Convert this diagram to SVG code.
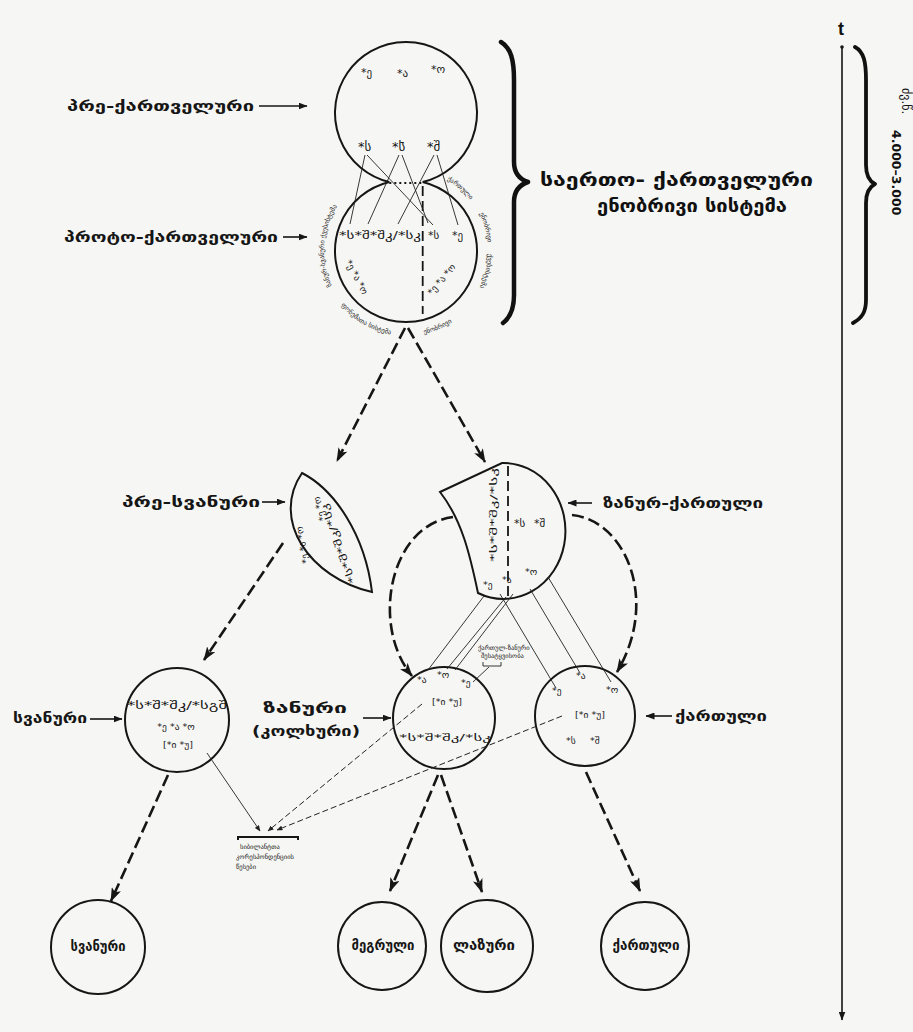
<svg xmlns="http://www.w3.org/2000/svg" width="913" height="1032" viewBox="0 0 913 1032">
  <style>
    .geo { font-family: "DejaVu Sans", sans-serif; fill: #161616; }
    .lab { font-family: "DejaVu Sans", sans-serif; font-weight: bold; font-size: 14px; fill: #161616; }
    .title { font-family: "DejaVu Sans", sans-serif; font-weight: bold; font-size: 18px; fill: #111; }
    .sm { font-size: 11px; }
    .xs { font-size: 9.5px; }
    .tiny { font-size: 6.5px; }
    .ring { font-family: "DejaVu Sans", sans-serif; font-size: 6.5px; fill: #222; }
    .node { fill: none; stroke: #161616; stroke-width: 2; }
    .thin { fill: none; stroke: #222; stroke-width: 0.9; }
    .thindash { fill: none; stroke: #222; stroke-width: 1; stroke-dasharray: 6 3; }
    .big { fill: none; stroke: #161616; stroke-width: 2.6; stroke-dasharray: 12 5; }
    .ptr { fill: none; stroke: #161616; stroke-width: 1.6; }
    .brace { fill: none; stroke: #111; stroke-width: 4.5; stroke-linecap: round; stroke-linejoin: round; }
  </style>
  <defs>
    <marker id="ah" viewBox="0 0 14 10" refX="13" refY="5" markerWidth="14" markerHeight="10" markerUnits="userSpaceOnUse" orient="auto">
      <path d="M0,0 L14,5 L0,10 L3.5,5 z" fill="#161616"/>
    </marker>
    <marker id="la" viewBox="0 0 9 7" refX="8.5" refY="3.5" markerWidth="9" markerHeight="7" markerUnits="userSpaceOnUse" orient="auto">
      <path d="M0,0 L9,3.5 L0,7 z" fill="#161616"/>
    </marker>
    <marker id="ta" viewBox="0 0 6 5" refX="5.5" refY="2.5" markerWidth="6" markerHeight="5" markerUnits="userSpaceOnUse" orient="auto">
      <path d="M0,0 L6,2.5 L0,5 z" fill="#222"/>
    </marker>
    <!-- arcs carrying the small captions round the proto-Kartvelian circle -->
    <path id="ringL" d="M331.7,285.7 A82,82 0 0,1 359,183.8"/>
    <path id="ringR1" d="M447,180 A82,82 0 0,1 477,210"/>
    <path id="ringR2" d="M479.5,213.5 A82,82 0 0,1 488,251"/>
    <path id="ringR3" d="M487.9,253.9 A82,82 0 0,1 473.2,298"/>
    <path id="ringB" d="M341,305 A85,85 0 0,0 406,336"/>
    <path id="ringBR" d="M424,334 A85,85 0 0,0 466,311"/>
  </defs>

  <rect width="913" height="1032" fill="#f6f6f4"/>

  <!-- time axis -->
  <g id="axis">
    <text x="841" y="35" text-anchor="middle" font-family="Liberation Sans, sans-serif" font-weight="bold" font-size="18" fill="#111">t</text>
    <line x1="842" y1="47" x2="842" y2="1020" stroke="#161616" stroke-width="1.6" marker-end="url(#la)"/>
    <circle cx="842" cy="47" r="1.8" fill="#161616"/>
    <path class="brace" style="stroke-width:3.8" d="M855,47 C864,52 866,62 866,80 L866,165 C866,176 869,181 875,184 C869,187 866,192 866,203 L866,300 C866,312 862,318 853,323"/>
    <text class="geo" font-size="12" transform="translate(902,88) rotate(90)">ძვ.წ.</text>
    <text font-family="DejaVu Sans, sans-serif" font-weight="bold" font-size="12.5" fill="#111" transform="translate(892,130) rotate(90)">4.000–3.000</text>
  </g>

  <!-- common Kartvelian language system -->
  <g id="common-system">
    <path class="brace" d="M501,42 C511,48 514,60 514,80 L514,162 C514,173 519,179 528,182 C519,185 514,191 514,202 L514,295 C514,308 511,317 503,323"/>
    <text class="title" x="540" y="186" textLength="273" lengthAdjust="spacingAndGlyphs">საერთო- ქართველური</text>
    <text class="title" x="597" y="212" textLength="190" lengthAdjust="spacingAndGlyphs">ენობრივი სისტემა</text>
  </g>

  <!-- pre-Kartvelian -->
  <g id="pre-kartvelian">
    <path class="node" d="M389.3,182 A71,71 0 1,1 422.7,182"/>
    <text class="geo sm" x="361" y="76">*ე</text>
    <text class="geo sm" x="397" y="77">*ა</text>
    <text class="geo sm" x="431" y="73">*ო</text>
    <text class="geo" font-size="13" x="358" y="151">*ს</text>
    <text class="geo" font-size="13" x="392" y="151">*ს̄</text>
    <text class="geo" font-size="13" x="427" y="151">*შ</text>
    <text class="lab" x="67" y="111" textLength="187" lengthAdjust="spacingAndGlyphs">პრე-ქართველური</text>
    <line class="ptr" x1="259" y1="106" x2="307" y2="106" marker-end="url(#la)"/>
  </g>

  <!-- proto-Kartvelian -->
  <g id="proto-kartvelian">
    <path class="node" d="M422.7,182 A71,71 0 1,1 389.3,182"/>
    <line x1="389.3" y1="183" x2="422.7" y2="183" stroke="#161616" stroke-width="2.2" stroke-dasharray="2 3"/>
    <line x1="422.7" y1="186" x2="422.7" y2="314" stroke="#161616" stroke-width="1.8" stroke-dasharray="10 5"/>
    <text class="geo sm" x="339" y="239" textLength="82" lengthAdjust="spacingAndGlyphs">*ს*შ*შკ/*სკ</text>
    <text class="geo sm" x="428" y="239">*ს</text>
    <text class="geo sm" x="452" y="239">*ე</text>
    <text class="geo xs" transform="translate(345,262) rotate(62)">*ე *ა *ო</text>
    <text class="geo xs" transform="translate(432,296) rotate(-50)">*ე *ა *ო</text>
    <text class="ring"><textPath href="#ringL">ზანურ-სვანური ქვესისტემა</textPath></text>
    <text class="ring"><textPath href="#ringR1">ქართული</textPath></text>
    <text class="ring"><textPath href="#ringR2">ენობრივი</textPath></text>
    <text class="ring"><textPath href="#ringR3">ქვესისტემა</textPath></text>
    <text class="ring"><textPath href="#ringB">ფონემათა სისტემა</textPath></text>
    <text class="ring"><textPath href="#ringBR">ენობრივი</textPath></text>
    <text class="lab" x="64" y="242" textLength="214" lengthAdjust="spacingAndGlyphs">პროტო-ქართველური</text>
    <line class="ptr" x1="283" y1="237" x2="307" y2="237" marker-end="url(#la)"/>
  </g>

  <!-- pre-Svan -->
  <g id="pre-svan">
    <path class="node" d="M302,473 C335,490 365,535 372,592 C310,578 270,520 302,473 Z"/>
    <text class="geo xs" transform="translate(309,563) rotate(-100)">*ე *ა *ო</text>
    <text class="geo xs" transform="translate(326,520) rotate(-105)">*ე *ო</text>
    <text class="geo xs" transform="translate(356,582) rotate(-110)" textLength="84" lengthAdjust="spacingAndGlyphs">*ს*შ*შკ/*სკ</text>
    <text class="lab" x="122" y="507" textLength="138" lengthAdjust="spacingAndGlyphs">პრე-სვანური</text>
    <line class="ptr" x1="262" y1="502" x2="285" y2="502" marker-end="url(#la)"/>
  </g>

  <!-- Zan-Georgian -->
  <g id="zan-georgian">
    <path class="node" d="M440,492 L502,463 A62,68 0 1,1 478,593 C470,555 462,520 440,492 Z"/>
    <line x1="508" y1="466" x2="508" y2="597" stroke="#161616" stroke-width="1.8" stroke-dasharray="10 5"/>
    <text class="geo xs" transform="translate(497,562) rotate(-90)" textLength="94" lengthAdjust="spacingAndGlyphs">*ს*შ*შკ/*სკ</text>
    <text class="geo sm" x="514" y="527">*ს</text>
    <text class="geo sm" x="534" y="527">*შ</text>
    <text class="geo xs" x="483" y="588">*ე</text>
    <text class="geo xs" x="502" y="583">*ა</text>
    <text class="geo xs" x="525" y="575">*ო</text>
    <line class="ptr" x1="592" y1="503" x2="568" y2="503" marker-end="url(#la)"/>
    <text class="lab" x="603" y="508" textLength="160" lengthAdjust="spacingAndGlyphs">ზანურ-ქართული</text>
  </g>

  <!-- Svan -->
  <g id="svan">
    <circle class="node" cx="177" cy="720" r="52"/>
    <text class="geo sm" x="177" y="709" text-anchor="middle" textLength="100" lengthAdjust="spacingAndGlyphs">*ს*შ*შკ/*სგშ</text>
    <text class="geo xs" x="176" y="730" text-anchor="middle">*ე  *ა  *ო</text>
    <text class="geo xs" x="178" y="748" text-anchor="middle">[*ი  *უ]</text>
    <text class="lab" x="13" y="723" textLength="74" lengthAdjust="spacingAndGlyphs">სვანური</text>
    <line class="ptr" x1="90" y1="719" x2="122" y2="719" marker-end="url(#la)"/>
  </g>

  <!-- Zan (Colchian) -->
  <g id="zan">
    <circle class="node" cx="444" cy="718" r="51"/>
    <text class="geo xs" x="417" y="683">*ა</text>
    <text class="geo xs" x="437" y="678">*ო</text>
    <text class="geo xs" x="461" y="686">*ე</text>
    <text class="geo xs" x="447" y="705" text-anchor="middle">[*ი  *უ]</text>
    <text class="geo xs" x="445" y="741" text-anchor="middle" textLength="92" lengthAdjust="spacingAndGlyphs">*ს*შ*შკ/*სკ</text>
    <text class="lab" x="263" y="713" textLength="84" lengthAdjust="spacingAndGlyphs">ზანური</text>
    <text class="lab" x="252" y="736" textLength="108" lengthAdjust="spacingAndGlyphs">(კოლხური)</text>
    <line class="ptr" x1="363" y1="718" x2="391" y2="718" marker-end="url(#la)"/>
  </g>

  <!-- Georgian -->
  <g id="georgian">
    <circle class="node" cx="585" cy="716" r="50"/>
    <text class="geo xs" x="552" y="694">*ე</text>
    <text class="geo xs" x="576" y="679">*ა</text>
    <text class="geo xs" x="606" y="693">*ო</text>
    <text class="geo xs" x="590" y="718" text-anchor="middle">[*ი  *უ]</text>
    <text class="geo xs" x="566" y="744">*ს</text>
    <text class="geo xs" x="590" y="744">*შ</text>
    <line class="ptr" x1="672" y1="716" x2="646" y2="716" marker-end="url(#la)"/>
    <text class="lab" x="675" y="721" textLength="92" lengthAdjust="spacingAndGlyphs">ქართული</text>
  </g>

  <!-- correspondence notes -->
  <g id="note-zan-georgian">
    <text class="geo tiny" x="478" y="650">ქართულ-ზანური</text>
    <text class="geo tiny" x="481" y="658">შესატყვისობა</text>
    <path class="thin" d="M483,662 L483,666 L501,666 L501,662"/>
  </g>
  <g id="note-sibilants">
    <path d="M238,840 L238,837 L298,837 L298,840" fill="none" stroke="#161616" stroke-width="2"/>
    <text class="geo tiny" x="240" y="849">სიბილანტთა</text>
    <text class="geo tiny" x="236" y="859">კორესპონდენციის</text>
    <text class="geo tiny" x="236" y="869">წესები</text>
  </g>

  <!-- modern languages -->
  <g id="svan-lang">
    <circle class="node" cx="98" cy="947" r="47"/>
    <text class="lab" font-size="12" x="98" y="951" text-anchor="middle" textLength="55" lengthAdjust="spacingAndGlyphs">სვანური</text>
  </g>
  <g id="megrelian">
    <circle class="node" cx="382" cy="946" r="44"/>
    <text class="lab" font-size="12" x="383" y="950" text-anchor="middle" textLength="63" lengthAdjust="spacingAndGlyphs">მეგრული</text>
  </g>
  <g id="laz">
    <circle class="node" cx="487" cy="946" r="46"/>
    <text class="lab" font-size="12" x="484" y="950" text-anchor="middle" textLength="62" lengthAdjust="spacingAndGlyphs">ლაზური</text>
  </g>
  <g id="georgian-lang">
    <circle class="node" cx="645" cy="946" r="44"/>
    <text class="lab" font-size="12" x="646" y="950" text-anchor="middle" textLength="67" lengthAdjust="spacingAndGlyphs">ქართული</text>
  </g>

  <!-- connectors -->
  <g id="connectors">
    <!-- pre-Kartvelian to proto-Kartvelian sound lines -->
    <line class="thin" x1="365" y1="155" x2="350" y2="224"/>
    <line class="thin" x1="367" y1="155" x2="433" y2="225"/>
    <line class="thin" x1="399" y1="155" x2="368" y2="224"/>
    <line class="thin" x1="402" y1="155" x2="428" y2="223"/>
    <line class="thin" x1="434" y1="155" x2="398" y2="224"/>
    <line class="thin" x1="437" y1="155" x2="458" y2="225"/>

    <!-- split of the proto language -->
    <path class="big" d="M405,328 L337,461" marker-end="url(#ah)"/>
    <path class="big" d="M408,328 L485,462" marker-end="url(#ah)"/>

    <!-- pre-Svan to Svan -->
    <path class="big" d="M283,543 L204,660" marker-end="url(#ah)"/>

    <!-- Zan-Georgian to Zan and Georgian -->
    <path class="big" d="M453,517 C390,525 370,625 412,676" marker-end="url(#ah)"/>
    <path class="big" d="M572,515 C625,520 660,600 617,672" marker-end="url(#ah)"/>

    <!-- Zan-Georgian sound lines -->
    <line class="thin" x1="484" y1="596" x2="428" y2="670"/>
    <line class="thin" x1="506" y1="597" x2="447" y2="669"/>
    <line class="thin" x1="513" y1="594" x2="455" y2="670"/>
    <line class="thin" x1="500" y1="594" x2="556" y2="688"/>
    <line class="thin" x1="530" y1="589" x2="580" y2="673"/>
    <line class="thin" x1="548" y1="577" x2="611" y2="682"/>
    <line class="thin" x1="489" y1="667" x2="473" y2="682"/>

    <!-- lines to the sibilant note -->
    <line class="thin" x1="207" y1="753" x2="260" y2="831" marker-end="url(#ta)"/>
    <line class="thindash" x1="422" y1="704" x2="268" y2="831" marker-end="url(#ta)"/>
    <line class="thindash" x1="562" y1="716" x2="277" y2="830" marker-end="url(#ta)"/>

    <!-- to the modern languages -->
    <path class="big" d="M168,775 L111,901" marker-end="url(#ah)"/>
    <path class="big" d="M438,775 L390,891" marker-end="url(#ah)"/>
    <path class="big" d="M441,775 L482,892" marker-end="url(#ah)"/>
    <path class="big" d="M586,772 L640,891" marker-end="url(#ah)"/>
  </g>
</svg>
